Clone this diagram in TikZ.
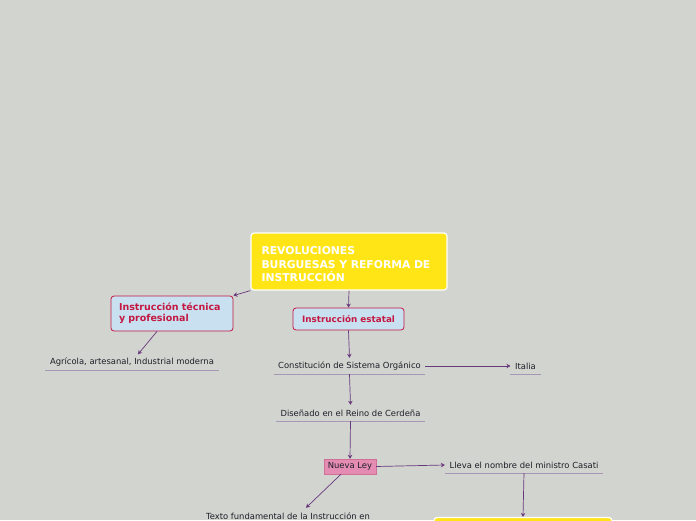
\documentclass[tikz,border=0pt]{standalone}
\usepackage{fontspec}
\setmainfont{DejaVu Sans}
\usetikzlibrary{arrows.meta, positioning}
\definecolor{mybg}{RGB}{210,212,208}
\definecolor{myyellow}{RGB}{255,229,22}
\definecolor{mycrimson}{RGB}{196,24,66}
\definecolor{myblue}{RGB}{200,224,240}
\definecolor{mypink}{RGB}{228,140,178}
\definecolor{mypinkdark}{RGB}{206,112,152}
\definecolor{mypurple}{RGB}{104,56,124}
\definecolor{myline}{RGB}{168,150,182}
\definecolor{mydark}{RGB}{30,30,40}
\tikzset{
  conn/.style={-{Stealth[length=4pt,width=4.5pt]}, line width=0.7pt, color=mypurple},
  uline/.style={line width=0.8pt, color=myline},
  item/.style={rectangle, inner xsep=4.5pt, inner ysep=0pt, minimum height=16pt,
    font=\fontsize{8.4}{10}\selectfont, text=mydark}
}

\begin{document}
\begin{tikzpicture}[x=1pt, y=-1pt,
  root/.style={rectangle, draw=white, fill=myyellow, text=white, text width=175pt, align=left,
    inner xsep=10.5pt, minimum height=57pt, rounded corners=3pt, line width=1.2pt,
    font=\fontsize{10.8}{13.5}\selectfont\bfseries},
  branch/.style={rectangle, draw=mycrimson, fill=myblue, text=mycrimson, rounded corners=3pt,
    line width=0.8pt, font=\bfseries},
  law/.style={rectangle, draw=mypinkdark, fill=mypink, text=mydark, minimum width=52pt,
    minimum height=15pt, inner sep=0pt, font=\fontsize{8.4}{10}\selectfont}]

  % Background
  \fill[mybg] (0,0) rectangle (696,520);
  \useasboundingbox (0,0) rectangle (696,520);
  \clip (0,0) rectangle (696,520);

  % Root
  \node[root] (root) at (349,261.5) {\rule{0pt}{14pt}REVOLUCIONES\\BURGUESAS Y REFORMA DE\\INSTRUCCIÓN};

  % Branches
  \node[branch, text width=106pt, align=left, inner xsep=8pt, minimum height=35pt,
    font=\fontsize{9.5}{11}\selectfont\bfseries] (tec) at (172,313.5) {Instrucción técnica\\y profesional};
  \node[branch, minimum width=111pt, minimum height=22pt, inner sep=0pt,
    font=\fontsize{8.8}{10}\selectfont\bfseries] (estatal) at (348.5,319) {Instrucción estatal};

  % Items
  \node[item] (agri) at (132,362.5) {Agrícola, artesanal, Industrial moderna};
  \node[item] (constit) at (349.5,366) {Constitución de Sistema Orgánico};
  \node[item] (italia) at (525.5,366) {Italia};
  \node[item] (dis) at (350.5,413) {Diseñado en el Reino de Cerdeña};
  \node[law] (nueva) at (350,466.5) {Nueva Ley};
  \node[item] (lleva) at (524,465) {Lleva el nombre del ministro Casati};
  \node[item] (texto) at (288,516) {Texto fundamental de la Instrucción en};
  \node[rectangle, draw=white, fill=myyellow, line width=1.2pt, rounded corners=3pt,
    minimum width=178pt, minimum height=40pt] (casati) at (523,537.5) {};

  \foreach \n in {agri, constit, italia, dis, lleva, texto}
    \draw[uline] (\n.south west) -- (\n.south east);

  % Connections
  \draw[conn] (root.south west) -- (tec.north east);
  \draw[conn] (root.south) -- (estatal.north);
  \draw[conn] ([xshift=-15pt]tec.south) -- ([xshift=6pt]agri.north);
  \draw[conn] (estatal.south) -- (constit.north);
  \draw[conn] (constit.east) -- (italia.west);
  \draw[conn] (constit.south) -- (dis.north);
  \draw[conn] (dis.south) -- (nueva.north);
  \draw[conn] (nueva.east) -- (lleva.west);
  \draw[conn] ([xshift=-9pt]nueva.south) -- ([xshift=18pt]texto.north);
  \draw[conn] (lleva.south) -- (casati.north);

\end{tikzpicture}
\end{document}
